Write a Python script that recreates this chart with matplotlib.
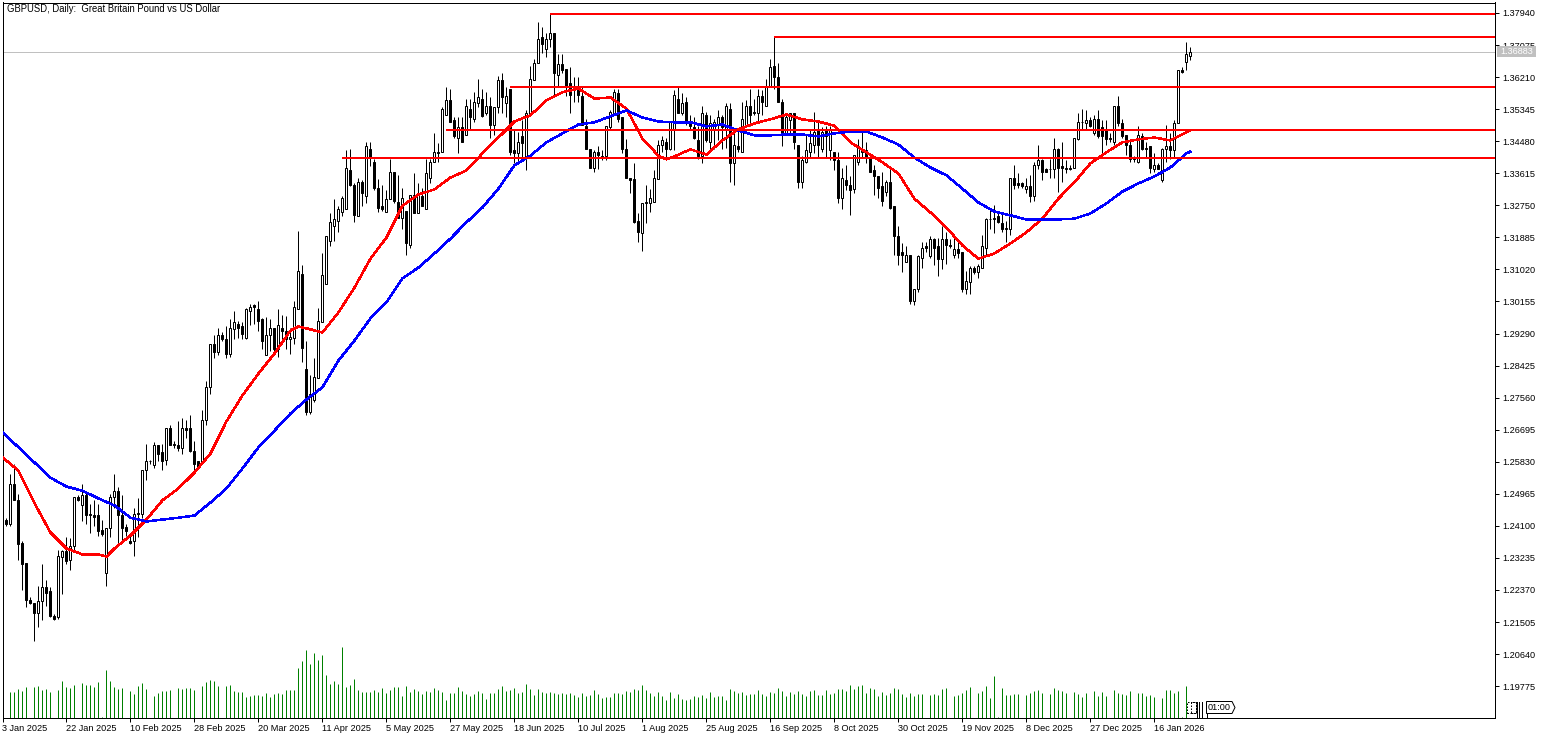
# GBPUSD daily chart, MetaTrader look: candles, two moving averages, S/R lines, tick volume
import matplotlib
matplotlib.use("Agg")
import matplotlib.pyplot as plt
from matplotlib.lines import Line2D
from matplotlib.patches import Polygon, Rectangle

W, H = 1547, 738

opens = [
    1.2427, 1.2427, 1.2414, 1.2522, 1.2481, 1.2365, 1.2311, 1.2211, 1.2201, 1.2176,
    1.2206, 1.2244, 1.2233, 1.2168, 1.2165, 1.2327, 1.2341, 1.2319, 1.2357, 1.2487,
    1.2465, 1.2492, 1.2443, 1.2440, 1.2438, 1.2400, 1.2284, 1.2403, 1.2487, 1.2503,
    1.2440, 1.2408, 1.2370, 1.2368, 1.2446, 1.2443, 1.2562, 1.2584, 1.2573, 1.2629,
    1.2608, 1.2589, 1.2673, 1.2632, 1.2629, 1.2621, 1.2675, 1.2675, 1.2611, 1.2584,
    1.2581, 1.2697, 1.2784, 1.2902, 1.2878, 1.2926, 1.2915, 1.2875, 1.2940, 1.2956,
    1.2948, 1.2918, 1.2989, 1.3005, 1.2994, 1.2967, 1.2870, 1.2924, 1.2943, 1.2886,
    1.2945, 1.2935, 1.2913, 1.2918, 1.2994, 1.3091, 1.2832, 1.2716, 1.2751, 1.2810,
    1.2961, 1.3064, 1.3180, 1.3220, 1.3234, 1.3256, 1.3266, 1.3369, 1.3331, 1.3245,
    1.3339, 1.3301, 1.3426, 1.3393, 1.3323, 1.3272, 1.3258, 1.3291, 1.3364, 1.3285,
    1.3242, 1.3261, 1.3167, 1.3304, 1.3253, 1.3299, 1.3266, 1.3350, 1.3391, 1.3418,
    1.3418, 1.3520, 1.3558, 1.3504, 1.3458, 1.3485, 1.3464, 1.3534, 1.3509, 1.3550,
    1.3563, 1.3523, 1.3544, 1.3493, 1.3539, 1.3612, 1.3550, 1.3588, 1.3423, 1.3415,
    1.3461, 1.3404, 1.3518, 1.3612, 1.3658, 1.3728, 1.3698, 1.3725, 1.3739, 1.3628,
    1.3655, 1.3644, 1.3604, 1.3590, 1.3593, 1.3571, 1.3488, 1.3428, 1.3377, 1.3420,
    1.3409, 1.3407, 1.3485, 1.3523, 1.3577, 1.3512, 1.3426, 1.3350, 1.3345, 1.3234,
    1.3199, 1.3280, 1.3280, 1.3285, 1.3347, 1.3437, 1.3445, 1.3426, 1.3477, 1.3563,
    1.3523, 1.3553, 1.3501, 1.3485, 1.3450, 1.3407, 1.3518, 1.3447, 1.3477, 1.3493,
    1.3512, 1.3477, 1.3534, 1.3388, 1.3434, 1.3420, 1.3493, 1.3544, 1.3528, 1.3523,
    1.3571, 1.3544, 1.3596, 1.3650, 1.3620, 1.3555, 1.3469, 1.3504, 1.3523, 1.3439,
    1.3337, 1.3391, 1.3420, 1.3439, 1.3477, 1.3428, 1.3480, 1.3423, 1.3418, 1.3396,
    1.3296, 1.3342, 1.3329, 1.3318, 1.3391, 1.3418, 1.3423, 1.3404, 1.3369, 1.3353,
    1.3326, 1.3312, 1.3337, 1.3272, 1.3191, 1.3148, 1.3123, 1.3140, 1.3018, 1.3048,
    1.3134, 1.3164, 1.3137, 1.3183, 1.3164, 1.3129, 1.3185, 1.3169, 1.3140, 1.3156,
    1.3148, 1.3048, 1.3069, 1.3107, 1.3094, 1.3107, 1.3161, 1.3239, 1.3237, 1.3245,
    1.3226, 1.3212, 1.3210, 1.3350, 1.3334, 1.3334, 1.3318, 1.3326, 1.3299, 1.3385,
    1.3396, 1.3372, 1.3372, 1.3372, 1.3426, 1.3380, 1.3377, 1.3377, 1.3377, 1.3455,
    1.3499, 1.3496, 1.3504, 1.3469, 1.3507, 1.3485, 1.3477, 1.3458, 1.3445, 1.3544,
    1.3496, 1.3464, 1.3437, 1.3404, 1.3391, 1.3461, 1.3431, 1.3434, 1.3374, 1.3383,
    1.3342, 1.3426, 1.3434, 1.3423, 1.3496, 1.3641, 1.3663, 1.3679,
]
highs = [
    1.2427, 1.2430, 1.2551, 1.2578, 1.2495, 1.2368, 1.2311, 1.2217, 1.2203, 1.2249,
    1.2308, 1.2263, 1.2246, 1.2171, 1.2346, 1.2346, 1.2379, 1.2376, 1.2487, 1.2492,
    1.2524, 1.2505, 1.2470, 1.2479, 1.2470, 1.2427, 1.2403, 1.2495, 1.2551, 1.2514,
    1.2492, 1.2414, 1.2389, 1.2457, 1.2484, 1.2562, 1.2632, 1.2589, 1.2635, 1.2629,
    1.2632, 1.2675, 1.2681, 1.2640, 1.2694, 1.2700, 1.2697, 1.2708, 1.2640, 1.2586,
    1.2724, 1.2800, 1.2902, 1.2926, 1.2945, 1.2932, 1.2948, 1.2967, 1.2989, 1.2964,
    1.2961, 1.2997, 1.3010, 1.3010, 1.3016, 1.2970, 1.2973, 1.2967, 1.2945, 1.2994,
    1.2978, 1.2975, 1.2943, 1.3018, 1.3207, 1.3115, 1.2910, 1.2816, 1.2864, 1.2997,
    1.3145, 1.3191, 1.3253, 1.3293, 1.3274, 1.3299, 1.3423, 1.3426, 1.3334, 1.3350,
    1.3342, 1.3445, 1.3445, 1.3401, 1.3347, 1.3331, 1.3315, 1.3401, 1.3364, 1.3358,
    1.3323, 1.3261, 1.3304, 1.3361, 1.3334, 1.3323, 1.3399, 1.3399, 1.3469, 1.3442,
    1.3539, 1.3593, 1.3588, 1.3512, 1.3512, 1.3512, 1.3561, 1.3561, 1.3580, 1.3617,
    1.3588, 1.3582, 1.3566, 1.3539, 1.3625, 1.3631, 1.3593, 1.3590, 1.3482, 1.3472,
    1.3504, 1.3531, 1.3650, 1.3671, 1.3771, 1.3755, 1.3741, 1.3790, 1.3739, 1.3682,
    1.3682, 1.3644, 1.3647, 1.3620, 1.3620, 1.3596, 1.3507, 1.3428, 1.3423, 1.3434,
    1.3423, 1.3490, 1.3531, 1.3590, 1.3590, 1.3512, 1.3455, 1.3350, 1.3388, 1.3253,
    1.3280, 1.3331, 1.3320, 1.3369, 1.3450, 1.3461, 1.3458, 1.3499, 1.3585, 1.3593,
    1.3577, 1.3566, 1.3518, 1.3512, 1.3488, 1.3544, 1.3528, 1.3518, 1.3509, 1.3531,
    1.3518, 1.3550, 1.3550, 1.3477, 1.3477, 1.3553, 1.3558, 1.3590, 1.3563, 1.3588,
    1.3585, 1.3617, 1.3671, 1.3728, 1.3660, 1.3561, 1.3518, 1.3525, 1.3523, 1.3439,
    1.3409, 1.3464, 1.3477, 1.3528, 1.3504, 1.3485, 1.3488, 1.3488, 1.3418, 1.3418,
    1.3377, 1.3383, 1.3353, 1.3412, 1.3455, 1.3472, 1.3445, 1.3415, 1.3383, 1.3353,
    1.3364, 1.3342, 1.3372, 1.3272, 1.3220, 1.3172, 1.3164, 1.3140, 1.3050, 1.3140,
    1.3175, 1.3175, 1.3191, 1.3188, 1.3188, 1.3218, 1.3202, 1.3185, 1.3191, 1.3177,
    1.3148, 1.3099, 1.3110, 1.3110, 1.3118, 1.3194, 1.3242, 1.3269, 1.3277, 1.3261,
    1.3253, 1.3234, 1.3350, 1.3385, 1.3361, 1.3339, 1.3350, 1.3358, 1.3391, 1.3439,
    1.3401, 1.3377, 1.3401, 1.3458, 1.3431, 1.3445, 1.3396, 1.3383, 1.3458, 1.3523,
    1.3536, 1.3531, 1.3512, 1.3518, 1.3531, 1.3504, 1.3504, 1.3469, 1.3544, 1.3569,
    1.3509, 1.3466, 1.3450, 1.3409, 1.3488, 1.3469, 1.3445, 1.3434, 1.3415, 1.3388,
    1.3431, 1.3493, 1.3469, 1.3504, 1.3639, 1.3647, 1.3715, 1.3701,
]
lows = [
    1.2379, 1.2411, 1.2411, 1.2479, 1.2319, 1.2238, 1.2190, 1.2198, 1.2100, 1.2136,
    1.2155, 1.2195, 1.2163, 1.2157, 1.2160, 1.2227, 1.2308, 1.2292, 1.2346, 1.2476,
    1.2424, 1.2416, 1.2392, 1.2411, 1.2384, 1.2384, 1.2249, 1.2379, 1.2459, 1.2362,
    1.2368, 1.2384, 1.2362, 1.2330, 1.2379, 1.2432, 1.2535, 1.2578, 1.2567, 1.2586,
    1.2562, 1.2573, 1.2627, 1.2621, 1.2613, 1.2605, 1.2648, 1.2608, 1.2559, 1.2565,
    1.2578, 1.2681, 1.2767, 1.2864, 1.2870, 1.2910, 1.2862, 1.2867, 1.2915, 1.2918,
    1.2913, 1.2915, 1.2951, 1.2956, 1.2935, 1.2886, 1.2870, 1.2883, 1.2875, 1.2867,
    1.2902, 1.2886, 1.2875, 1.2902, 1.2994, 1.2851, 1.2708, 1.2713, 1.2743, 1.2808,
    1.2959, 1.3064, 1.3164, 1.3180, 1.3202, 1.3245, 1.3264, 1.3326, 1.3231, 1.3245,
    1.3274, 1.3280, 1.3380, 1.3315, 1.3258, 1.3261, 1.3258, 1.3291, 1.3280, 1.3242,
    1.3212, 1.3140, 1.3161, 1.3253, 1.3253, 1.3272, 1.3264, 1.3334, 1.3391, 1.3391,
    1.3418, 1.3518, 1.3499, 1.3458, 1.3415, 1.3445, 1.3464, 1.3477, 1.3499, 1.3539,
    1.3512, 1.3520, 1.3458, 1.3464, 1.3523, 1.3523, 1.3512, 1.3412, 1.3388, 1.3388,
    1.3396, 1.3369, 1.3518, 1.3612, 1.3658, 1.3685, 1.3674, 1.3701, 1.3571, 1.3593,
    1.3633, 1.3571, 1.3525, 1.3555, 1.3553, 1.3493, 1.3426, 1.3377, 1.3364, 1.3374,
    1.3396, 1.3396, 1.3477, 1.3518, 1.3499, 1.3415, 1.3350, 1.3307, 1.3226, 1.3175,
    1.3153, 1.3226, 1.3258, 1.3283, 1.3345, 1.3418, 1.3396, 1.3423, 1.3423, 1.3523,
    1.3520, 1.3493, 1.3477, 1.3453, 1.3401, 1.3388, 1.3445, 1.3423, 1.3428, 1.3450,
    1.3428, 1.3431, 1.3339, 1.3331, 1.3418, 1.3420, 1.3490, 1.3490, 1.3520, 1.3499,
    1.3520, 1.3544, 1.3593, 1.3590, 1.3553, 1.3434, 1.3464, 1.3464, 1.3426, 1.3323,
    1.3323, 1.3388, 1.3404, 1.3415, 1.3404, 1.3418, 1.3404, 1.3396, 1.3369, 1.3280,
    1.3264, 1.3315, 1.3248, 1.3307, 1.3383, 1.3404, 1.3388, 1.3364, 1.3304, 1.3296,
    1.3274, 1.3301, 1.3266, 1.3140, 1.3115, 1.3096, 1.3123, 1.3010, 1.3005, 1.3042,
    1.3107, 1.3150, 1.3134, 1.3115, 1.3085, 1.3102, 1.3118, 1.3161, 1.3134, 1.3134,
    1.3042, 1.3037, 1.3037, 1.3091, 1.3080, 1.3107, 1.3140, 1.3212, 1.3199, 1.3226,
    1.3202, 1.3177, 1.3194, 1.3320, 1.3323, 1.3323, 1.3307, 1.3285, 1.3288, 1.3374,
    1.3342, 1.3364, 1.3350, 1.3350, 1.3312, 1.3337, 1.3361, 1.3369, 1.3377, 1.3450,
    1.3477, 1.3477, 1.3485, 1.3466, 1.3458, 1.3412, 1.3437, 1.3445, 1.3437, 1.3490,
    1.3458, 1.3412, 1.3391, 1.3393, 1.3388, 1.3423, 1.3404, 1.3361, 1.3364, 1.3372,
    1.3339, 1.3393, 1.3401, 1.3404, 1.3496, 1.3631, 1.3641, 1.3666,
]
closes = [
    1.2379, 1.2416, 1.2522, 1.2481, 1.2362, 1.2308, 1.2211, 1.2203, 1.2176, 1.2206,
    1.2244, 1.2230, 1.2168, 1.2160, 1.2330, 1.2341, 1.2316, 1.2357, 1.2487, 1.2481,
    1.2492, 1.2440, 1.2438, 1.2435, 1.2397, 1.2389, 1.2403, 1.2489, 1.2503, 1.2440,
    1.2405, 1.2395, 1.2365, 1.2443, 1.2443, 1.2562, 1.2584, 1.2586, 1.2629, 1.2605,
    1.2586, 1.2673, 1.2629, 1.2627, 1.2621, 1.2673, 1.2670, 1.2611, 1.2578, 1.2567,
    1.2697, 1.2786, 1.2902, 1.2878, 1.2926, 1.2915, 1.2875, 1.2945, 1.2961, 1.2945,
    1.2929, 1.2994, 1.3000, 1.3000, 1.2964, 1.2910, 1.2924, 1.2945, 1.2886, 1.2951,
    1.2935, 1.2913, 1.2921, 1.3000, 1.3099, 1.2889, 1.2716, 1.2765, 1.2813, 1.2964,
    1.3088, 1.3191, 1.3229, 1.3239, 1.3266, 1.3296, 1.3377, 1.3329, 1.3248, 1.3339,
    1.3307, 1.3434, 1.3404, 1.3323, 1.3269, 1.3264, 1.3291, 1.3364, 1.3288, 1.3242,
    1.3296, 1.3172, 1.3304, 1.3253, 1.3304, 1.3274, 1.3361, 1.3393, 1.3418, 1.3415,
    1.3534, 1.3558, 1.3499, 1.3461, 1.3485, 1.3447, 1.3544, 1.3512, 1.3553, 1.3566,
    1.3517, 1.3544, 1.3493, 1.3539, 1.3612, 1.3566, 1.3571, 1.3418, 1.3415, 1.3447,
    1.3442, 1.3523, 1.3615, 1.3660, 1.3725, 1.3709, 1.3725, 1.3741, 1.3631, 1.3655,
    1.3639, 1.3593, 1.3574, 1.3585, 1.3574, 1.3493, 1.3426, 1.3377, 1.3420, 1.3412,
    1.3404, 1.3488, 1.3528, 1.3582, 1.3507, 1.3426, 1.3350, 1.3342, 1.3231, 1.3202,
    1.3280, 1.3283, 1.3296, 1.3350, 1.3439, 1.3450, 1.3428, 1.3499, 1.3574, 1.3523,
    1.3550, 1.3501, 1.3488, 1.3458, 1.3407, 1.3523, 1.3450, 1.3496, 1.3499, 1.3512,
    1.3485, 1.3544, 1.3388, 1.3437, 1.3428, 1.3507, 1.3544, 1.3520, 1.3523, 1.3571,
    1.3555, 1.3598, 1.3647, 1.3620, 1.3553, 1.3469, 1.3512, 1.3523, 1.3445, 1.3339,
    1.3396, 1.3423, 1.3442, 1.3472, 1.3437, 1.3474, 1.3461, 1.3482, 1.3396, 1.3296,
    1.3350, 1.3331, 1.3315, 1.3412, 1.3431, 1.3428, 1.3404, 1.3366, 1.3353, 1.3323,
    1.3288, 1.3337, 1.3269, 1.3191, 1.3142, 1.3142, 1.3140, 1.3018, 1.3050, 1.3137,
    1.3161, 1.3161, 1.3183, 1.3161, 1.3129, 1.3185, 1.3167, 1.3164, 1.3156, 1.3145,
    1.3048, 1.3072, 1.3107, 1.3094, 1.3110, 1.3164, 1.3237, 1.3237, 1.3242, 1.3229,
    1.3212, 1.3215, 1.3350, 1.3329, 1.3329, 1.3326, 1.3326, 1.3299, 1.3385, 1.3396,
    1.3366, 1.3366, 1.3374, 1.3426, 1.3377, 1.3377, 1.3374, 1.3372, 1.3458, 1.3501,
    1.3501, 1.3504, 1.3490, 1.3509, 1.3461, 1.3461, 1.3455, 1.3453, 1.3544, 1.3496,
    1.3461, 1.3437, 1.3401, 1.3401, 1.3464, 1.3428, 1.3426, 1.3377, 1.3383, 1.3374,
    1.3428, 1.3434, 1.3423, 1.3496, 1.3639, 1.3636, 1.3682, 1.36883,
]
volumes = [
    0, 0, 26, 26, 29, 27, 31, 0, 31, 32,
    28, 29, 26, 0, 28, 37, 31, 30, 33, 0,
    35, 33, 33, 31, 36, 1, 48, 37, 31, 29,
    30, 0, 27, 24, 32, 35, 29, 0, 22, 25,
    27, 27, 28, 0, 30, 29, 30, 30, 28, 0,
    32, 36, 38, 37, 32, 0, 32, 33, 27, 26,
    26, 21, 22, 23, 23, 22, 25, 21, 24, 25,
    24, 28, 28, 28, 50, 57, 68, 54, 65, 58,
    63, 43, 34, 37, 34, 71, 31, 33, 39, 28,
    26, 26, 26, 28, 26, 30, 25, 28, 31, 31,
    22, 32, 26, 29, 27, 24, 27, 26, 30, 28,
    26, 18, 25, 25, 31, 27, 24, 22, 24, 27,
    25, 19, 25, 25, 29, 32, 27, 28, 30, 25,
    26, 34, 29, 23, 29, 26, 25, 26, 25, 24,
    25, 24, 25, 23, 21, 25, 22, 23, 28, 24,
    20, 21, 21, 25, 25, 24, 27, 26, 29, 28,
    33, 28, 25, 22, 26, 22, 18, 26, 20, 24,
    19, 18, 19, 22, 21, 23, 20, 26, 21, 22,
    22, 18, 29, 27, 25, 26, 23, 24, 24, 28,
    24, 22, 26, 25, 30, 27, 22, 26, 24, 27,
    24, 22, 27, 28, 23, 23, 28, 24, 25, 29,
    29, 27, 33, 29, 32, 33, 25, 30, 29, 22,
    26, 23, 25, 30, 29, 24, 21, 25, 22, 24,
    24, 0, 23, 24, 23, 29, 30, 0, 22, 23,
    25, 28, 31, 0, 25, 27, 32, 20, 42, 1,
    30, 23, 23, 24, 24, 0, 23, 25, 27, 28,
    25, 0, 24, 30, 28, 27, 25, 0, 26, 24,
    21, 25, 0, 27, 22, 26, 22, 0, 28, 25,
    24, 23, 27, 0, 25, 25, 22, 23, 21, 0,
    20, 28, 28, 25, 27, 1, 32, 0,
]

# moving averages (a few extra bars at the turns)
fast_bars = [0, 4, 8, 12, 16, 20, 24, 26, 28, 32, 36, 40, 44, 48, 52, 56, 60, 64, 68, 72, 74, 76,
             80, 84, 88, 92, 96, 100, 104, 108, 112, 116, 120, 124, 128, 132, 136, 140, 144, 148,
             152, 156, 160, 164, 166, 168, 172, 176, 180, 184, 188, 192, 196, 200, 204, 208, 212,
             216, 220, 224, 228, 232, 236, 240, 244, 248, 252, 256, 260, 264, 268, 272, 276, 280,
             284, 288, 292, 296, 297]
fast_ma = [1.2595, 1.2559, 1.2471, 1.2392, 1.2349, 1.2333, 1.2333, 1.2327, 1.2349, 1.2384, 1.2427,
           1.2479, 1.2511, 1.2554, 1.2605, 1.2692, 1.2762, 1.2821, 1.2875, 1.2937, 1.2948, 1.2943,
           1.2932, 1.2986, 1.3053, 1.3131, 1.3188, 1.3274, 1.3304, 1.3318, 1.3350, 1.3369, 1.3415,
           1.3458, 1.3501, 1.3518, 1.3558, 1.3580, 1.3590, 1.3563, 1.3566, 1.3536, 1.3455, 1.3409,
           1.3399, 1.3407, 1.3426, 1.3412, 1.3450, 1.3480, 1.3496, 1.3507, 1.3520, 1.3507, 1.3501,
           1.3490, 1.3445, 1.3418, 1.3391, 1.3361, 1.3293, 1.3256, 1.3215, 1.3167, 1.3131, 1.3145,
           1.3172, 1.3202, 1.3239, 1.3293, 1.3337, 1.3388, 1.3418, 1.3445, 1.3453, 1.3458, 1.3450,
           1.3472, 1.3477]
slow_bars = list(range(0, 297, 4)) + [297]
slow_ma = [1.2662, 1.2622, 1.2581, 1.2540, 1.2516, 1.2505, 1.2484, 1.2465, 1.2432, 1.2422, 1.2427,
           1.2432, 1.2438, 1.2473, 1.2511, 1.2565, 1.2622, 1.2667, 1.2713, 1.2751, 1.2784, 1.2856,
           1.2910, 1.2970, 1.3013, 1.3078, 1.3107, 1.3145, 1.3185, 1.3229, 1.3269, 1.3320, 1.3383,
           1.3409, 1.3445, 1.3469, 1.3493, 1.3499, 1.3515, 1.3531, 1.3512, 1.3501, 1.3499, 1.3499,
           1.3488, 1.3493, 1.3477, 1.3464, 1.3464, 1.3466, 1.3466, 1.3461, 1.3469, 1.3474, 1.3474,
           1.3458, 1.3439, 1.3404, 1.3377, 1.3356, 1.3320, 1.3283, 1.3258, 1.3248, 1.3237, 1.3237,
           1.3237, 1.3239, 1.3253, 1.3280, 1.3312, 1.3334, 1.3353, 1.3377, 1.3415, 1.3420]

# horizontal levels: price and the bar they start from
level_prices = [1.37900, 1.37287, 1.35938, 1.34769, 1.34014]
level_starts = [137, 193, 127, 111, 85]
last_price = 1.36883

price_ticks = [1.37940, 1.37075, 1.36210, 1.35345, 1.34480, 1.33615, 1.32750, 1.31885, 1.31020,
               1.30155, 1.29290, 1.28425, 1.27560, 1.26695, 1.25830, 1.24965, 1.24100, 1.23235,
               1.22370, 1.21505, 1.20640, 1.19775]
date_labels = ["3 Jan 2025", "22 Jan 2025", "10 Feb 2025", "28 Feb 2025", "20 Mar 2025",
               "11 Apr 2025", "5 May 2025", "27 May 2025", "18 Jun 2025", "10 Jul 2025",
               "1 Aug 2025", "25 Aug 2025", "16 Sep 2025", "8 Oct 2025", "30 Oct 2025",
               "19 Nov 2025", "8 Dec 2025", "27 Dec 2025", "16 Jan 2026"]
date_bars = [16 * k for k in range(len(date_labels))]

FONT = "Liberation Sans"
PX = 72 / 100  # one pixel in points at dpi 100
plt.rcParams["font.family"] = FONT

fig = plt.figure(figsize=(W / 100, H / 100), dpi=100, facecolor="white")
left, right, top, bottom = 2.5, 1494.5, 2.5, 717.5
pos = [left / W, 1 - bottom / H, (right - left) / W, (bottom - top) / H]


def px(x, y):
    return x / W, 1 - y / H


# tick volume sits on its own scale at the bottom of the same frame
vol = fig.add_axes(pos, zorder=1)
vol.set_xlim(0.05, 373.05)
vol.set_ylim(0, 715)
vol.axis("off")
vol.vlines(range(len(volumes)), 0, volumes, color="#008000", lw=PX, snap=True)

ax = fig.add_axes(pos, zorder=2)
ax.patch.set_alpha(0)
ax.set_xlim(0.05, 373.05)
ax.set_ylim(1.18929, 1.38223)

ax.axhline(last_price, color="#c0c0c0", lw=PX, zorder=1, snap=True)

bars = range(len(opens))
ax.vlines(bars, lows, highs, color="black", lw=PX, zorder=2, snap=True)
for i in bars:
    lo, hi = min(opens[i], closes[i]), max(opens[i], closes[i])
    ax.bar(i, hi - lo, bottom=lo, width=0.5, zorder=3, linewidth=PX, edgecolor="black",
           facecolor="white" if closes[i] >= opens[i] else "black")

ax.plot(fast_bars, fast_ma, color="#ff0000", lw=1.5 * PX, zorder=4, antialiased=False)
ax.plot(slow_bars, slow_ma, color="#0000ff", lw=1.5 * PX, zorder=4, antialiased=False)

for price, start in zip(level_prices, level_starts):
    ax.plot([start, 373.05], [price, price], color="#ff0000", lw=2 * PX, zorder=5,
            snap=True, solid_capstyle="butt")

ax.yaxis.tick_right()
ax.set_yticks(price_ticks)
ax.set_yticklabels([f"{p:.5f}" for p in price_ticks])
ax.set_xticks(date_bars)
ax.set_xticklabels(date_labels, ha="left")
ax.tick_params(axis="both", length=4 * PX, width=PX, labelsize=6.6, color="black")
ax.tick_params(axis="y", pad=2.5)
ax.tick_params(axis="x", pad=1.5)
for s in ax.spines.values():
    s.set_linewidth(PX)

# title, last price tag and the small clock tag near the last bar
fig.text(*px(7, 9), "GBPUSD, Daily:  Great Britain Pound vs US Dollar", fontsize=6.85, va="center")

x0, y0 = px(1497, 57)
x1, y1 = px(1536, 46)
fig.add_artist(Rectangle((x0, y0), x1 - x0, y1 - y0, transform=fig.transFigure,
                         facecolor="#c0c0c0", edgecolor="none", zorder=6))
fig.text(*px(1516.5, 51.5), f"{last_price:.5f}", fontsize=6.6, color="white", ha="center",
         va="center", zorder=7)

for a, b in [(1186.5, 1195.5), (1191, 1195.5)]:
    x0, y0 = px(a, 713)
    x1, y1 = px(b, 701.5)
    fig.add_artist(Rectangle((x0, y0), x1 - x0, y1 - y0, transform=fig.transFigure, fill=False,
                             edgecolor="black", lw=PX, ls=(0, (1.5, 1.5)), zorder=6))
for x in [1196.5, 1198.5, 1201.5, 1206.5]:
    xa, ya = px(x, 701.5)
    xb, yb = px(x, 717)
    fig.add_artist(Line2D([xa, xb], [ya, yb], color="black", lw=PX, zorder=6))
tag = [(1206.5, 701.5), (1232, 701.5), (1235, 707.5), (1232, 713.5), (1206.5, 713.5)]
fig.add_artist(Polygon([px(x, y) for x, y in tag], transform=fig.transFigure, closed=True,
                       facecolor="white", edgecolor="black", lw=PX, zorder=6))
fig.text(*px(1219, 707.5), "01:00", fontsize=6.6, ha="center", va="center", zorder=7)

fig.savefig("out.png", dpi=100, facecolor="white")
